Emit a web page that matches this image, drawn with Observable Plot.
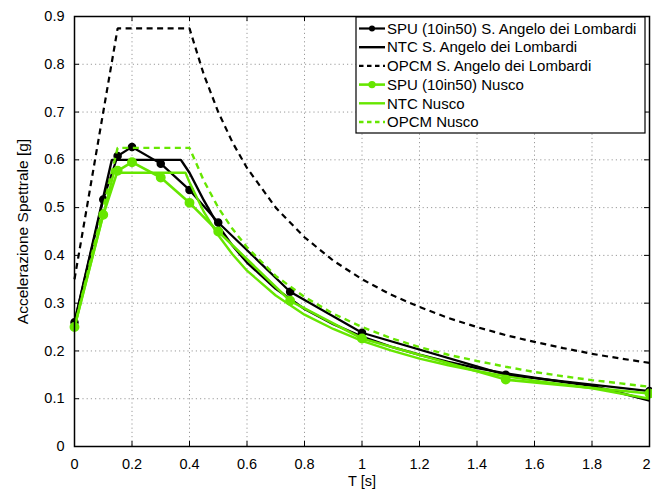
<!DOCTYPE html>
<html><head><meta charset="utf-8">
<script src="https://cdn.jsdelivr.net/npm/d3@7"></script>
<script src="https://cdn.jsdelivr.net/npm/@observablehq/plot@0.6"></script>
<style>body{margin:0;background:#fff} svg{font-family:"Liberation Sans",Arial,sans-serif}</style>
</head><body><div id="chart"></div>
<script>
// Periods and values
const spuT = [0, 0.1, 0.15, 0.2, 0.3, 0.4, 0.5, 0.75, 1.0, 1.5, 2.0];
const spuSA = [0.26, 0.517, 0.608, 0.627, 0.592, 0.537, 0.469, 0.324, 0.238, 0.150, 0.116];
const spuNusco = [0.25, 0.485, 0.577, 0.595, 0.563, 0.510, 0.450, 0.305, 0.226, 0.140, 0.111];

const ntcSAT = [0, 0.13, 0.37, 0.4, 0.45, 0.5, 0.55, 0.6, 0.7, 0.8, 0.9, 1.0, 1.1, 1.2, 1.3, 1.4, 1.5, 1.6, 1.7, 1.8, 1.9, 2.0];
const ntcSA = [0.26, 0.60, 0.60, 0.573, 0.515, 0.462, 0.420, 0.385, 0.330, 0.288, 0.256, 0.230, 0.209, 0.192, 0.177, 0.164, 0.153, 0.144, 0.135, 0.127, 0.112, 0.096];

const ntcNuscoT = [0, 0.137, 0.386, 0.4, 0.45, 0.5, 0.55, 0.6, 0.7, 0.8, 0.9, 1.0, 1.1, 1.2, 1.3, 1.4, 1.5, 1.6, 1.7, 1.8, 1.9, 2.0];
const ntcNusco = [0.25, 0.573, 0.573, 0.553, 0.491, 0.442, 0.402, 0.368, 0.316, 0.276, 0.246, 0.221, 0.201, 0.184, 0.170, 0.158, 0.147, 0.138, 0.130, 0.122, 0.111, 0.100];

const opcmT = [0, 0.15, 0.4, 0.45, 0.5, 0.55, 0.6, 0.7, 0.8, 0.9, 1.0, 1.1, 1.2, 1.3, 1.4, 1.5, 1.6, 1.7, 1.8, 1.9, 2.0];
const opcmSA = [0.35, 0.875, 0.875, 0.778, 0.700, 0.636, 0.583, 0.500, 0.438, 0.389, 0.350, 0.318, 0.292, 0.269, 0.250, 0.233, 0.219, 0.206, 0.194, 0.184, 0.175];
const opcmNusco = [0.25, 0.625, 0.625, 0.556, 0.500, 0.455, 0.417, 0.357, 0.313, 0.278, 0.250, 0.227, 0.208, 0.192, 0.179, 0.167, 0.156, 0.147, 0.139, 0.132, 0.125];

const xTicks = [0, 0.2, 0.4, 0.6, 0.8, 1, 1.2, 1.4, 1.6, 1.8, 2];
const yTicks = [0, 0.1, 0.2, 0.3, 0.4, 0.5, 0.6, 0.7, 0.8, 0.9];
const xLabel = "T [s]";
const yLabel = "Accelerazione Spettrale [g]";

const GREEN = "#66e600";
const series = [
  {name: "SPU (10in50) S. Angelo dei Lombardi", T: spuT, v: spuSA, color: "black", dash: null, dot: true, r: 3.5, w: 2.2},
  {name: "NTC S. Angelo dei Lombardi", T: ntcSAT, v: ntcSA, color: "black", dash: null, dot: false, w: 2.4},
  {name: "OPCM S. Angelo dei Lombardi", T: opcmT, v: opcmSA, color: "black", dash: "6,4.5", dot: false, w: 2.2},
  {name: "SPU (10in50) Nusco", T: spuT, v: spuNusco, color: GREEN, dash: null, dot: true, r: 4.2, w: 2.6},
  {name: "NTC Nusco", T: ntcNuscoT, v: ntcNusco, color: GREEN, dash: null, dot: false, w: 2.4},
  {name: "OPCM Nusco", T: opcmT, v: opcmNusco, color: GREEN, dash: "6,4.5", dot: false, w: 2.4}
];

const W = 652, H = 490, mL = 74, mR = 3, mT = 16, mB = 44;
const innerW = W - mL - mR, innerH = H - mT - mB;
const xMax = xTicks[xTicks.length - 1];

const marks = [
  Plot.gridX(xTicks, {stroke: "#9a9a9a", strokeOpacity: 1, strokeDasharray: "1.2,3"}),
  Plot.gridY(yTicks, {stroke: "#9a9a9a", strokeOpacity: 1, strokeDasharray: "1.2,3"}),
  Plot.ruleX(xTicks, {insetTop: innerH - 5, stroke: "black"}),
  Plot.ruleX(xTicks, {insetBottom: innerH - 5, stroke: "black"}),
  Plot.ruleY(yTicks, {insetRight: innerW - 5, stroke: "black"}),
  Plot.ruleY(yTicks, {insetLeft: innerW - 5, stroke: "black"})
];
for (const s of series) {
  const data = s.T.map((t, i) => ({T: t, v: s.v[i]}));
  marks.push(Plot.line(data, {x: "T", y: "v", stroke: s.color, strokeWidth: s.w, strokeDasharray: s.dash, strokeLinejoin: "miter", strokeLinecap: "butt"}));
  if (s.dot) marks.push(Plot.dot(data, {x: "T", y: "v", r: s.r, fill: s.color, stroke: s.color}));
}
marks.push(
  Plot.frame({stroke: "black", strokeWidth: 1.5}),
  Plot.axisX(xTicks.filter(d => d !== xMax), {tickSize: 0, tickPadding: 12, tickFormat: d => String(d), label: null, fontSize: 14.5}),
  Plot.axisX([xMax], {tickSize: 0, tickPadding: 12, tickFormat: d => String(d), label: null, fontSize: 14.5, dx: -3}),
  Plot.axisY(yTicks, {tickSize: 0, tickPadding: 10, tickFormat: d => String(d), label: null, fontSize: 14.5}),
  Plot.text([xLabel], {frameAnchor: "bottom", lineAnchor: "middle", textAnchor: "middle", dy: 35, text: d => d, fontSize: 14.5}),
  Plot.text([yLabel], {frameAnchor: "left", lineAnchor: "middle", textAnchor: "middle", dx: -51, rotate: -90, text: d => d, fontSize: 15.5})
);

const plot = Plot.plot({
  width: W, height: H,
  marginLeft: mL, marginRight: mR, marginTop: mT, marginBottom: mB,
  style: {fontFamily: '"Liberation Sans", Arial, sans-serif', fontSize: "14.5px", background: "white", color: "black"},
  x: {domain: [0, 2]},
  y: {domain: [0, 0.9]},
  marks
});
document.getElementById("chart").appendChild(plot);

// Legend inside plot (top-right)
const svg = d3.select(plot);
const lg = svg.append("g").attr("font-family", '"Liberation Sans", Arial, sans-serif').attr("font-size", 15).attr("text-anchor", "start");
const bx = 356, by = 17, bw = 289, bh = 116;
lg.append("rect").attr("x", bx).attr("y", by).attr("width", bw).attr("height", bh)
  .attr("fill", "white").attr("stroke", "black").attr("stroke-width", 1.2);
series.forEach((s, i) => {
  const yy = by + 11.5 + i * 18.7;
  lg.append("line").attr("x1", bx + 3).attr("x2", bx + 29).attr("y1", yy).attr("y2", yy)
    .attr("stroke", s.color).attr("stroke-width", s.w).attr("stroke-dasharray", s.dash ? "4.5,3.5" : null);
  if (s.dot) lg.append("circle").attr("cx", bx + 16).attr("cy", yy).attr("r", s.r - 0.5).attr("fill", s.color);
  lg.append("text").attr("x", bx + 31).attr("y", yy).attr("dy", "0.35em").attr("text-anchor", "start").text(s.name);
});
</script>
</body></html>
